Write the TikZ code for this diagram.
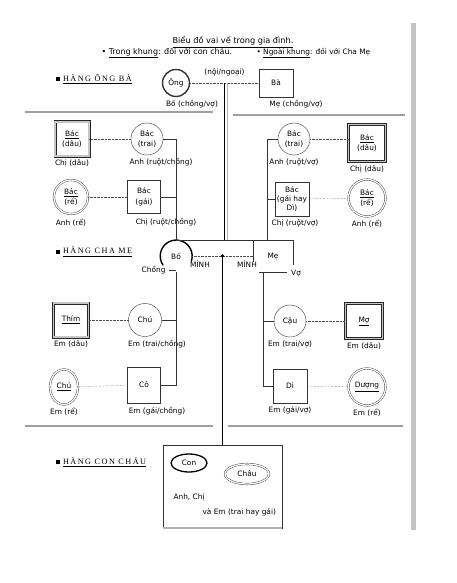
\documentclass[tikz,border=0pt]{standalone}
\usepackage{fontspec}
\setmainfont{DejaVu Sans}
\newfontfamily\hangfont[LetterSpace=18]{Liberation Serif}
\usepackage{tikz}
\usetikzlibrary{calc,positioning,shapes.geometric}
\definecolor{nenxam}{HTML}{C4C4C4}
\definecolor{vachxam}{HTML}{A0A0A0}
\definecolor{netxam}{HTML}{333333}
\tikzset{
  chu/.style={font=\fontsize{7.4}{10.5}\selectfont},
  tron/.style={circle,draw=netxam,thin,minimum size=32pt,inner sep=0pt,align=center,chu},
  tronkep/.style={tron,double,double distance=1.3pt},
  hop/.style={rectangle,draw=netxam,thin,minimum width=34pt,minimum height=34pt,inner sep=1pt,align=center,chu},
  hopkep/.style={hop,draw=black!85,double=gray!45,double distance=1.6pt,line width=0.7pt},
  noi/.style={densely dotted,gray!60!black},
  nhanh/.style={thin,netxam},
  vach/.style={line width=2pt,vachxam},
  hang/.style={anchor=west,font=\hangfont\fontsize{8.2}{10}\selectfont}
}
\begin{document}
\begin{tikzpicture}[x=1pt,y=-1pt]
\useasboundingbox (0,0) rectangle (456,583);
\fill[nenxam] (411,23) rectangle (416,530);
% tieu de
\node[chu,font=\fontsize{8.2}{10}\selectfont] (tieude) at (233,42) {\underline{Biểu đồ vai vế trong gia đình.}};
\node[chu,anchor=west,font=\fontsize{8}{10}\selectfont] (trong) at (98,53) {• \underline{Trong khung}: đối với con cháu.};
\node[chu,anchor=west] (ngoai) at (253,53) {• \underline{Ngoài khung}: đối với Cha Mẹ};

% hang ong ba
\node[hang] (hangOB) at (52,79) {\rule{4pt}{4pt}\ \underline{HÀNG ÔNG BÀ}};
\node[tron,line width=1.4pt,minimum size=27pt] (ong) at (176,83) {Ông};
\node[hop,minimum width=34pt,minimum height=28pt] (ba) at (276,83) {Bà};
\draw[noi] (ong) -- (ba) coordinate[pos=0.5] (giua);
\node[chu,above=3pt of giua] (noingoai) {(nội/ngoại)};
\node[chu] (boCV) at (192,104) {Bố (chồng/vợ)};
\node[chu] (meCV) at (296,104) {Mẹ (chồng/vợ)};
\draw[vach] (25,112) -- (213,112);
\draw[vach] (233,115) -- (405,115);

% hang cha me
\node[hang] (hangCM) at (52,252) {\rule{4pt}{4pt}\ \underline{HÀNG CHA MẸ}};
\node[tron,draw=none] (bo) at (176,256) {Bố};
\draw[line width=1.4pt] (bo.-20) arc[start angle=-20,end angle=215,radius=16pt];
\node[chu,anchor=east] (chong) at (169,270) {Chồng};
\node[chu] (minhB) at (200,264) {MÌNH};
\node[hop,draw=none,minimum width=40pt,minimum height=32pt] (me) at (273,256) {Mẹ};
\draw[nhanh] ([yshift=-6pt]me.west) -- (me.north west) -- (me.north east) -- ([yshift=-9pt]me.east);
\draw[nhanh] ([xshift=6pt]me.south west) -- ([xshift=-6pt]me.south east);
\node[chu] (minhM) at (247,264) {MÌNH};
\node[chu] (vo) at (296,273) {Vợ};
\draw[noi] (bo.east) -- (me.west) coordinate[pos=0.5] (cham);
\fill (cham) circle (1.8pt);
\coordinate (giuaDuoi) at (giua |- me.north);
\draw[line width=1.5pt] (giua) -- (giuaDuoi);
\draw[gray!60,line width=1pt] ([xshift=2.6pt]giua) -- ([xshift=2.6pt]giuaDuoi);
\draw[nhanh] (bo.north) -- (me.north west);
\draw[nhanh] (chong.east) -- (chong.east -| bo.south);

% ben noi (tren trai)
\node[hopkep] (bacdauL) at (72,139) {\underline{Bác}\\(dâu)};
\node[chu,below=0pt of bacdauL] (chidauL) {Chị (dâu)};
\node[tron] (bactraiL) at (147,139) {Bác\\(trai)};
\node[chu,below=0pt of bactraiL,xshift=14pt] (anhruotC) {Anh (ruột/chồng)};
\node[tronkep,minimum size=34pt] (bacreL) at (71,197) {\underline{Bác}\\(rể)};
\node[chu,below=1pt of bacreL] (anhreL) {Anh (rể)};
\node[hop,minimum size=33pt] (bacgaiL) at (144,197) {Bác\\(gái)};
\node[chu,below=1pt of bacgaiL,xshift=22pt] (chiruotC) {Chị (ruột/chồng)};
\draw[noi] (bacdauL) -- (bactraiL);
\draw[noi] (bacreL) -- (bacgaiL);
\draw[nhanh] (bo.north) |- (bactraiL.east);
\draw[nhanh] (bacgaiL.east) -| (bo.north);

% ben ngoai (tren phai)
\node[tron] (bactraiR) at (294,139) {Bác\\(trai)};
\node[chu,below=0pt of bactraiR] (anhruotV) {Anh (ruột/vợ)};
\node[hopkep,minimum size=37pt] (bacdauR) at (367,143) {\underline{Bác}\\(dâu)};
\node[chu,below=0pt of bacdauR] (chidauR) {Chị (dâu)};
\node[hop,font=\fontsize{7.4}{9}\selectfont] (bacgaiR) at (292,199) {Bác\\(gái hay\\Dì)};
\node[chu,below=0pt of bacgaiR,xshift=3pt] (chiruotV) {Chị (ruột/vợ)};
\node[tronkep,minimum size=37pt] (bacreR) at (367,198) {\underline{Bác}\\(rể)};
\node[chu,below=0pt of bacreR] (anhreR) {Anh (rể)};
\draw[noi] (bactraiR) -- (bacdauR.west |- bactraiR);
\draw[noi] (bacgaiR) -- (bacreR);
\coordinate (meTren) at ([xshift=-6pt]me.north);
\draw[nhanh] (meTren) |- (bactraiR.west);
\draw[nhanh] (bacgaiR.west) -| (meTren);

% ben noi (duoi trai)
\node[hopkep,minimum width=35pt] (thim) at (71,320) {\underline{Thím}};
\node[chu,below=0pt of thim] (emdauL) {Em (dâu)};
\node[tron,minimum size=33pt] (chuL) at (145,320) {Chú};
\node[chu,below=0pt of chuL,xshift=12pt] (emtraiC) {Em (trai/chồng)};
\node[ellipse,draw=netxam,thin,double,double distance=1.3pt,minimum width=28pt,minimum height=35pt,inner sep=0pt,chu] (chure) at (64,387) {\underline{Chú}};
\node[chu,below=0pt of chure] (emreL) {Em (rể)};
\node[hop,minimum width=33pt,minimum height=36pt] (co) at (144,385) {Cô};
\node[chu,below=0pt of co,xshift=13pt] (emgaiC) {Em (gái/chồng)};
\draw[noi] (thim) -- (chuL);
\draw[noi] (chure) -- (co);
\draw[nhanh] (bo.south) |- (co.east);
\draw[nhanh] (chuL.east) -| (bo.south);

% ben ngoai (duoi phai)
\coordinate (meDuoi) at ([xshift=-10pt]me.south);
\node[tron] (cau) at (290,321) {Cậu};
\node[chu,below=0pt of cau] (emtraiV) {Em (trai/vợ)};
\node[hopkep,minimum width=37pt,minimum height=35pt] (mo) at (364,321) {\underline{Mợ}};
\node[chu,below=0pt of mo] (emdauR) {Em (dâu)};
\node[hop] (di) at (290,386) {Dì};
\node[chu,below=0pt of di] (emgaiV) {Em (gái/vợ)};
\node[tronkep,minimum size=37pt] (duong) at (367,387) {\underline{Dượng}};
\node[chu,below=0pt of duong] (emreR) {Em (rể)};
\draw[noi] (cau) -- (mo);
\draw[noi] (di) -- (duong);
\draw[nhanh] (meDuoi) |- (di.west);
\draw[nhanh] (cau.west) -| (meDuoi);
\draw[vach] (25,426) -- (213,426);
\draw[vach] (228,426) -- (403,426);

% hang con chau
\node[hang] (hangCC) at (52,462) {\rule{4pt}{4pt}\ \underline{HÀNG CON CHÁU}};
\node[draw=netxam,thin,minimum width=119pt,minimum height=83pt] (conbox) at (222.5,486.5) {};
\draw[line width=1.5pt,gray!60] (conbox.south west) -- (conbox.south east);
\draw[line width=1pt] (cham) -- (conbox.north);
\node[ellipse,draw,line width=1.3pt,minimum width=36pt,minimum height=18pt,inner sep=0pt,chu] (con) at (189,463) {Con};
\node[ellipse,draw=netxam,thin,double,double distance=1.3pt,minimum width=44pt,minimum height=20pt,inner sep=0pt,chu] (chau) at (247,474) {Châu};
\node[chu,anchor=west] (anhchi) at (170,497) {Anh, Chị};
\node[chu,anchor=west] (vaem) at (199,512) {và Em (trai hay gái)};
\end{tikzpicture}
\end{document}
